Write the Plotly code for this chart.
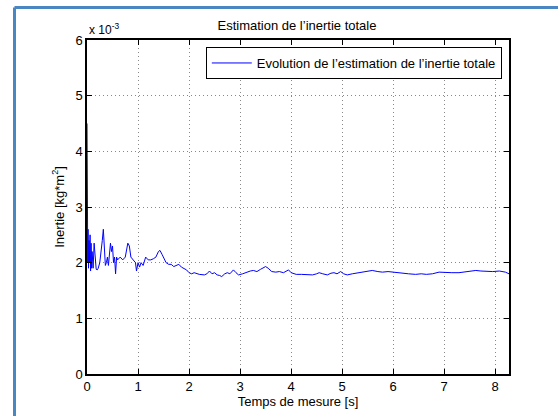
import plotly.graph_objects as go

t = [0.0, 0.005, 0.01, 0.015, 0.02, 0.03, 0.04, 0.05, 0.06, 0.07, 0.08, 0.09, 0.1, 0.12, 0.14, 0.16, 0.18, 0.2, 0.22, 0.25, 0.28, 0.3, 0.32, 0.34, 0.36, 0.38, 0.4, 0.42, 0.44, 0.46, 0.48, 0.5, 0.52, 0.54, 0.56, 0.58, 0.6, 0.65, 0.7, 0.75, 0.8, 0.83, 0.86, 0.9, 0.95, 0.97, 1.0, 1.03, 1.06, 1.1, 1.15, 1.2, 1.25, 1.3, 1.35, 1.4, 1.43, 1.47, 1.5, 1.55, 1.6, 1.65, 1.7, 1.75, 1.8, 1.85, 1.9, 1.95, 2.0, 2.05, 2.1, 2.15, 2.2, 2.3, 2.35, 2.4, 2.45, 2.5, 2.55, 2.6, 2.64, 2.7, 2.75, 2.8, 2.87, 2.92, 2.97, 3.05, 3.13, 3.2, 3.26, 3.33, 3.4, 3.5, 3.55, 3.62, 3.7, 3.77, 3.85, 3.95, 4.0, 4.1, 4.2, 4.3, 4.42, 4.5, 4.55, 4.62, 4.71, 4.78, 4.84, 4.9, 4.97, 5.03, 5.1, 5.2, 5.33, 5.45, 5.59, 5.7, 5.79, 5.9, 5.99, 6.1, 6.18, 6.3, 6.44, 6.55, 6.65, 6.77, 6.9, 7.03, 7.15, 7.29, 7.45, 7.62, 7.72, 7.82, 7.95, 8.08, 8.2, 8.27]
inertie = [4.5, 2.3, 2.8, 2.0, 2.6, 1.9, 2.4, 2.0, 2.5, 1.85, 2.35, 1.9, 2.2, 1.9, 2.35, 2.0, 1.88, 1.87, 1.9, 2.0, 2.2, 2.4, 2.6, 2.3, 1.95, 2.0, 2.1, 1.95, 2.2, 2.35, 2.2, 2.3, 2.0, 2.1, 1.8, 2.1, 2.05, 2.1, 2.05, 2.1, 2.35, 2.3, 2.1, 2.05, 2.0, 1.85, 2.0, 1.92, 2.0, 1.95, 2.1, 2.05, 2.05, 2.07, 2.1, 2.2, 2.22, 2.15, 2.1, 2.0, 1.97, 1.97, 1.93, 1.95, 1.97, 1.92, 1.9, 1.87, 1.82, 1.8, 1.82, 1.8, 1.79, 1.78, 1.8, 1.85, 1.8, 1.82, 1.78, 1.77, 1.75, 1.8, 1.82, 1.8, 1.87, 1.82, 1.78, 1.8, 1.83, 1.85, 1.86, 1.84, 1.88, 1.93, 1.9, 1.84, 1.83, 1.84, 1.82, 1.87, 1.82, 1.79, 1.79, 1.78, 1.78, 1.8, 1.82, 1.8, 1.78, 1.81, 1.82, 1.8, 1.84, 1.8, 1.78, 1.8, 1.82, 1.83, 1.86, 1.84, 1.83, 1.84, 1.83, 1.81, 1.8, 1.8, 1.79, 1.8, 1.79, 1.8, 1.83, 1.82, 1.82, 1.82, 1.84, 1.86, 1.85, 1.84, 1.84, 1.85, 1.83, 1.80]

x_ticks = [0, 1, 2, 3, 4, 5, 6, 7, 8]
y_ticks = [0, 1, 2, 3, 4, 5, 6]

FONT = "Liberation Sans, Arial, Helvetica, sans-serif"

fig = go.Figure()
fig.add_trace(go.Scatter(
    x=t, y=inertie, mode="lines",
    line=dict(color="#0000ff", width=1),
    name="Evolution de l\u2019estimation de l\u2019inertie totale",
))

axis_common = dict(
    showline=True, linecolor="black", linewidth=1.5, mirror="ticks",
    ticks="inside", ticklen=5, tickcolor="black",
    showgrid=True, gridcolor="#888888", griddash="1px,3px", gridwidth=1,
    zeroline=False, automargin=False,
    tickfont=dict(family=FONT, size=13, color="black"),
)

fig.update_xaxes(range=[0, 8.27], tickvals=x_ticks,
                 title=dict(text="Temps de mesure [s]", font=dict(family=FONT, size=13, color="black"), standoff=2),
                 **axis_common)
fig.update_yaxes(range=[0, 6], tickvals=y_ticks,
                 title=dict(text="Inertie [kg*m<sup>2</sup>]", font=dict(family=FONT, size=13, color="black"), standoff=8),
                 **axis_common)

# blue frame (paper coords)
pw, ph = 422.0, 334.0
xl = (14.5 - 87) / pw
yt = (374 - 7.5) / ph
frame_col = "#4a86c2"
fig.add_shape(type="line", xref="paper", yref="paper", x0=xl, x1=xl, y0=-0.2, y1=yt,
              line=dict(color=frame_col, width=3))
fig.add_shape(type="line", xref="paper", yref="paper", x0=xl, x1=1.3, y0=yt, y1=yt,
              line=dict(color=frame_col, width=3))

fig.add_annotation(text="x 10<sup>-3</sup>", xref="paper", yref="paper", x=0, y=1.0,
                   xanchor="left", yanchor="bottom", showarrow=False, yshift=1,
                   font=dict(family=FONT, size=12, color="black"))

fig.update_layout(
    width=558, height=416,
    margin=dict(l=87, r=49, t=40, b=42),
    paper_bgcolor="white", plot_bgcolor="white",
    title=dict(text="Estimation de l\u2019inertie totale", x=297 / 558, xanchor="center",
               y=1 - 25 / 416, yanchor="middle",
               font=dict(family=FONT, size=13, color="black")),
    showlegend=True,
    legend=dict(x=0.983, y=0.979, xanchor="right", yanchor="top",
                bordercolor="black", borderwidth=1, bgcolor="white",
                font=dict(family=FONT, size=13, color="black"),
                tracegroupgap=0, itemwidth=40),
)

fig.write_html("out.html", config={"displayModeBar": False},
               post_script="document.body.style.margin='0';document.body.style.overflow='hidden';")
